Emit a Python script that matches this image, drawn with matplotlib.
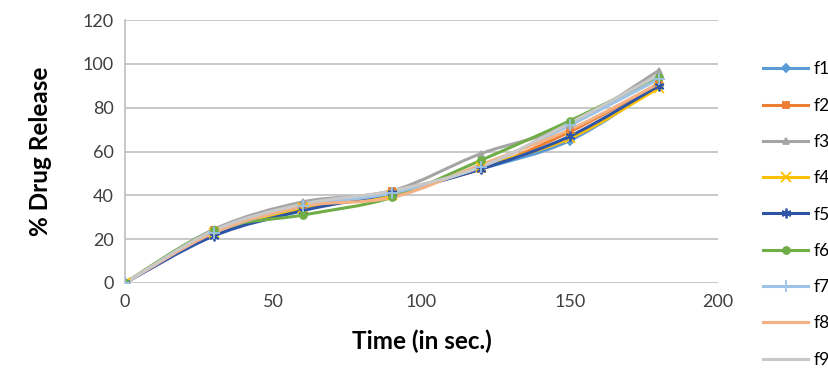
import numpy as np
import matplotlib
matplotlib.use('Agg')
import matplotlib.pyplot as plt
from matplotlib.path import Path
from matplotlib.patches import PathPatch
from matplotlib.lines import Line2D

plt.rcParams['font.family'] = ['Lato', 'DejaVu Sans']

# data
time = [0, 30, 60, 90, 120, 150, 180]
f1 = [0, 22.5, 34, 41, 52, 65, 90]
f2 = [0, 24, 35, 42, 52, 69, 91]
f3 = [0, 24.5, 37, 42, 59, 72, 97]
f4 = [0, 23, 34, 40, 53, 66, 89]
f5 = [0, 21.5, 33, 41, 52, 67, 90]
f6 = [0, 24, 31, 39, 56, 74, 94]
f7 = [0, 23, 35, 41, 53, 72, 93]
f8 = [0, 23, 35, 39, 54, 70, 91]
f9 = [0, 24, 36, 42, 53, 73, 95]

names = ['f1', 'f2', 'f3', 'f4', 'f5', 'f6', 'f7', 'f8', 'f9']
series = [f1, f2, f3, f4, f5, f6, f7, f8, f9]
colors = ['#5B9BD5', '#ED7D31', '#A5A5A5', '#FFC000', '#2E55A5',
          '#70AD47', '#9DC3E6', '#F4B183', '#C9C9C9']
markers = ['D', 's', '^', 'x', (6, 2, 0), 'o', '+', '', '']
msizes = [4, 5, 5, 7, 7, 5, 8, 0, 0]


def smooth_path(x, y):
    # Excel-like smooth line: cubic bezier segments through the data points
    x = np.asarray(x, float)
    y = np.asarray(y, float)
    verts = [(x[0], y[0])]
    codes = [Path.MOVETO]
    n = len(x)
    for i in range(n - 1):
        x0, y0 = (x[i - 1], y[i - 1]) if i > 0 else (x[i], y[i])
        x3, y3 = (x[i + 2], y[i + 2]) if i + 2 < n else (x[i + 1], y[i + 1])
        c1 = (x[i] + (x[i + 1] - x0) / 6, y[i] + (y[i + 1] - y0) / 6)
        c2 = (x[i + 1] - (x3 - x[i]) / 6, y[i + 1] - (y3 - y[i]) / 6)
        verts += [c1, c2, (x[i + 1], y[i + 1])]
        codes += [Path.CURVE4] * 3
    return Path(verts, codes)


fig = plt.figure(figsize=(8.29, 3.88), dpi=100)
ax = fig.add_axes([0.151, 0.271, 0.715, 0.677])

for s, c, m, ms in zip(series, colors, markers, msizes):
    ax.add_patch(PathPatch(smooth_path(time, s), facecolor='none',
                           edgecolor=c, lw=2.2, zorder=3))
    if m:
        ax.plot(time, s, ls='none', marker=m, ms=ms, color=c,
                mec=c, mew=1.3, zorder=4)

ax.set_xlim(0, 200)
ax.set_ylim(0, 120)
ax.set_xticks(range(0, 201, 50))
ax.set_yticks(range(0, 121, 20))
ax.grid(axis='y', color='#BFBFBF', lw=1.2)
ax.set_axisbelow(True)
for side in ['top', 'right', 'bottom']:
    ax.spines[side].set_visible(False)
ax.spines['left'].set_color('#BFBFBF')
ax.spines['left'].set_linewidth(1.2)
ax.tick_params(length=0, labelsize=13, colors='#404040', pad=8)

ax.set_xlabel('Time (in sec.)', fontsize=17.5, fontweight='bold', labelpad=14)
ax.set_ylabel('% Drug Release', fontsize=17.5, fontweight='bold', labelpad=22)

handles = [Line2D([], [], color=c, lw=2.2, marker=m if m else None,
                  ms=ms, mew=1.3) for c, m, ms in zip(colors, markers, msizes)]
fig.legend(handles, names, loc='upper left', bbox_to_anchor=(0.912, 0.86),
           frameon=False, fontsize=12.5, handlelength=2.6, labelspacing=1.17,
           handletextpad=0.3, borderaxespad=0)

fig.savefig('out.png', dpi=100)
